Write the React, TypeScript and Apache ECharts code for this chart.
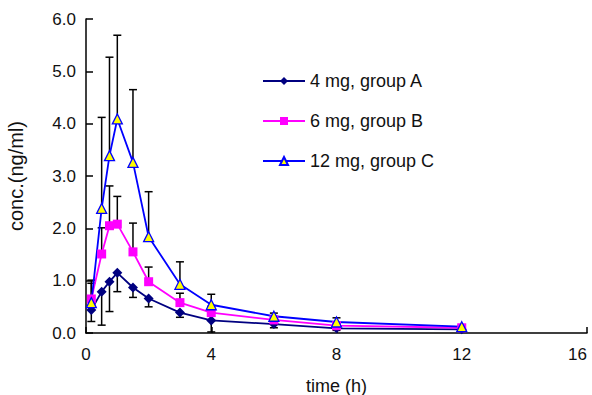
import React, { useEffect, useRef } from "react";
import * as echarts from "echarts";

const times = [0.17, 0.5, 0.75, 1, 1.5, 2, 3, 4, 6, 8, 12];
const groupA = [0.44, 0.79, 0.98, 1.15, 0.87, 0.66, 0.39, 0.24, 0.17, 0.09, 0.07];
const groupAsd = [0.22, 0.64, 0.57, 0.36, 0.19, 0.16, 0.09, 0.22, 0.07, 0.04, 0.03];
const groupB = [0.65, 1.51, 2.05, 2.08, 1.55, 0.98, 0.58, 0.39, 0.25, 0.14, 0.1];
const groupBsd = [0.3, 0.5, 0.76, 0.53, 0.55, 0.28, 0.18, 0.12, 0.06, 0.05, 0.03];
const groupC = [0.58, 2.38, 3.39, 4.09, 3.26, 1.84, 0.93, 0.54, 0.32, 0.21, 0.12];
const groupCsd = [0.43, 1.74, 1.88, 1.6, 1.39, 0.86, 0.43, 0.2, 0.06, 0.08, 0.03];

const seriesNames = ["4 mg, group A", "6 mg, group B", "12 mg, group C"];
const xTicks = { min: 0, max: 16, interval: 4 };
const yTicks = { min: 0, max: 6, interval: 1 };

const FONT = "Arial, 'Liberation Sans', sans-serif";

function errorSeries(vals: number[], sds: number[], dir: number) {
  return {
    type: "custom",
    z: 1,
    silent: true,
    data: times.map((t, i) => [t, vals[i], sds[i]]),
    encode: { x: 0, y: 1 },
    renderItem: (params: any, api: any) => {
      const x = api.value(0);
      const m = api.value(1);
      const e = api.value(2);
      const p0 = api.coord([x, m]);
      const p1 = api.coord([x, m + dir * e]);
      const st = { stroke: "#000", lineWidth: 1.5 };
      return {
        type: "group",
        children: [
          { type: "line", shape: { x1: p0[0], y1: p0[1], x2: p1[0], y2: p1[1] }, style: st },
          { type: "line", shape: { x1: p1[0] - 4, y1: p1[1], x2: p1[0] + 4, y2: p1[1] }, style: st },
        ],
      };
    },
  };
}

export default function App() {
  const ref = useRef<HTMLDivElement>(null);
  useEffect(() => {
    document.body.style.margin = "0";
    const chart = echarts.init(ref.current!, null, { renderer: "svg" });
    const lineSeries = (name: string, vals: number[], color: string, symbol: string, size: number, fill: string) => ({
      name,
      type: "line",
      z: 3,
      data: times.map((t, i) => [t, vals[i]]),
      symbol,
      symbolSize: size,
      showAllSymbol: true,
      lineStyle: { color, width: 1.8 },
      itemStyle: { color: fill, borderColor: color, borderWidth: symbol === "triangle" ? 1.3 : 0 },
      color,
    });
    chart.setOption({
      animation: false,
      backgroundColor: "#fff",
      grid: { left: 86, top: 19, right: 5, bottom: 62, containLabel: false, outerBoundsMode: "none" },
      legend: {
        orient: "vertical",
        left: 257,
        top: 67,
        itemWidth: 42,
        itemHeight: 10,
        itemGap: 22,
        itemTextGap: 13,
        textStyle: { fontFamily: FONT, fontSize: 18, color: "#111" },
        data: seriesNames,
      },
      xAxis: {
        type: "value",
        min: xTicks.min,
        max: xTicks.max,
        interval: xTicks.interval,
        name: "time (h)",
        nameLocation: "middle",
        nameGap: 44,
        nameTextStyle: { fontFamily: FONT, fontSize: 18, color: "#111" },
        axisLine: { show: true, lineStyle: { color: "#000", width: 1.5 } },
        axisTick: { show: true, inside: true, length: 6, lineStyle: { color: "#000", width: 1.5 } },
        axisLabel: { fontFamily: FONT, fontSize: 17, color: "#111", margin: 13, alignMaxLabel: "right" },
        splitLine: { show: false },
      },
      yAxis: {
        type: "value",
        min: yTicks.min,
        max: yTicks.max,
        interval: yTicks.interval,
        name: "conc.(ng/ml)",
        nameLocation: "middle",
        nameGap: 60,
        nameRotate: 90,
        nameTextStyle: { fontFamily: FONT, fontSize: 20, color: "#111" },
        axisLine: { show: true, lineStyle: { color: "#000", width: 1.5 } },
        axisTick: { show: true, inside: true, length: 7, lineStyle: { color: "#000", width: 1.5 } },
        axisLabel: { fontFamily: FONT, fontSize: 17, color: "#111", margin: 10, formatter: (v: number) => v.toFixed(1) },
        splitLine: { show: false },
      },
      series: [
        errorSeries(groupA, groupAsd, -1),
        errorSeries(groupB, groupBsd, 1),
        errorSeries(groupC, groupCsd, 1),
        lineSeries(seriesNames[0], groupA, "#000080", "diamond", 10, "#000080"),
        lineSeries(seriesNames[1], groupB, "#ff00ff", "rect", 9, "#ff00ff"),
        lineSeries(seriesNames[2], groupC, "#0000ff", "triangle", 10, "#ffff00"),
      ],
    });
    return () => chart.dispose();
  }, []);
  return <div ref={ref} style={{ position: "fixed", left: 0, top: 0, width: 592, height: 395 }} />;
}
